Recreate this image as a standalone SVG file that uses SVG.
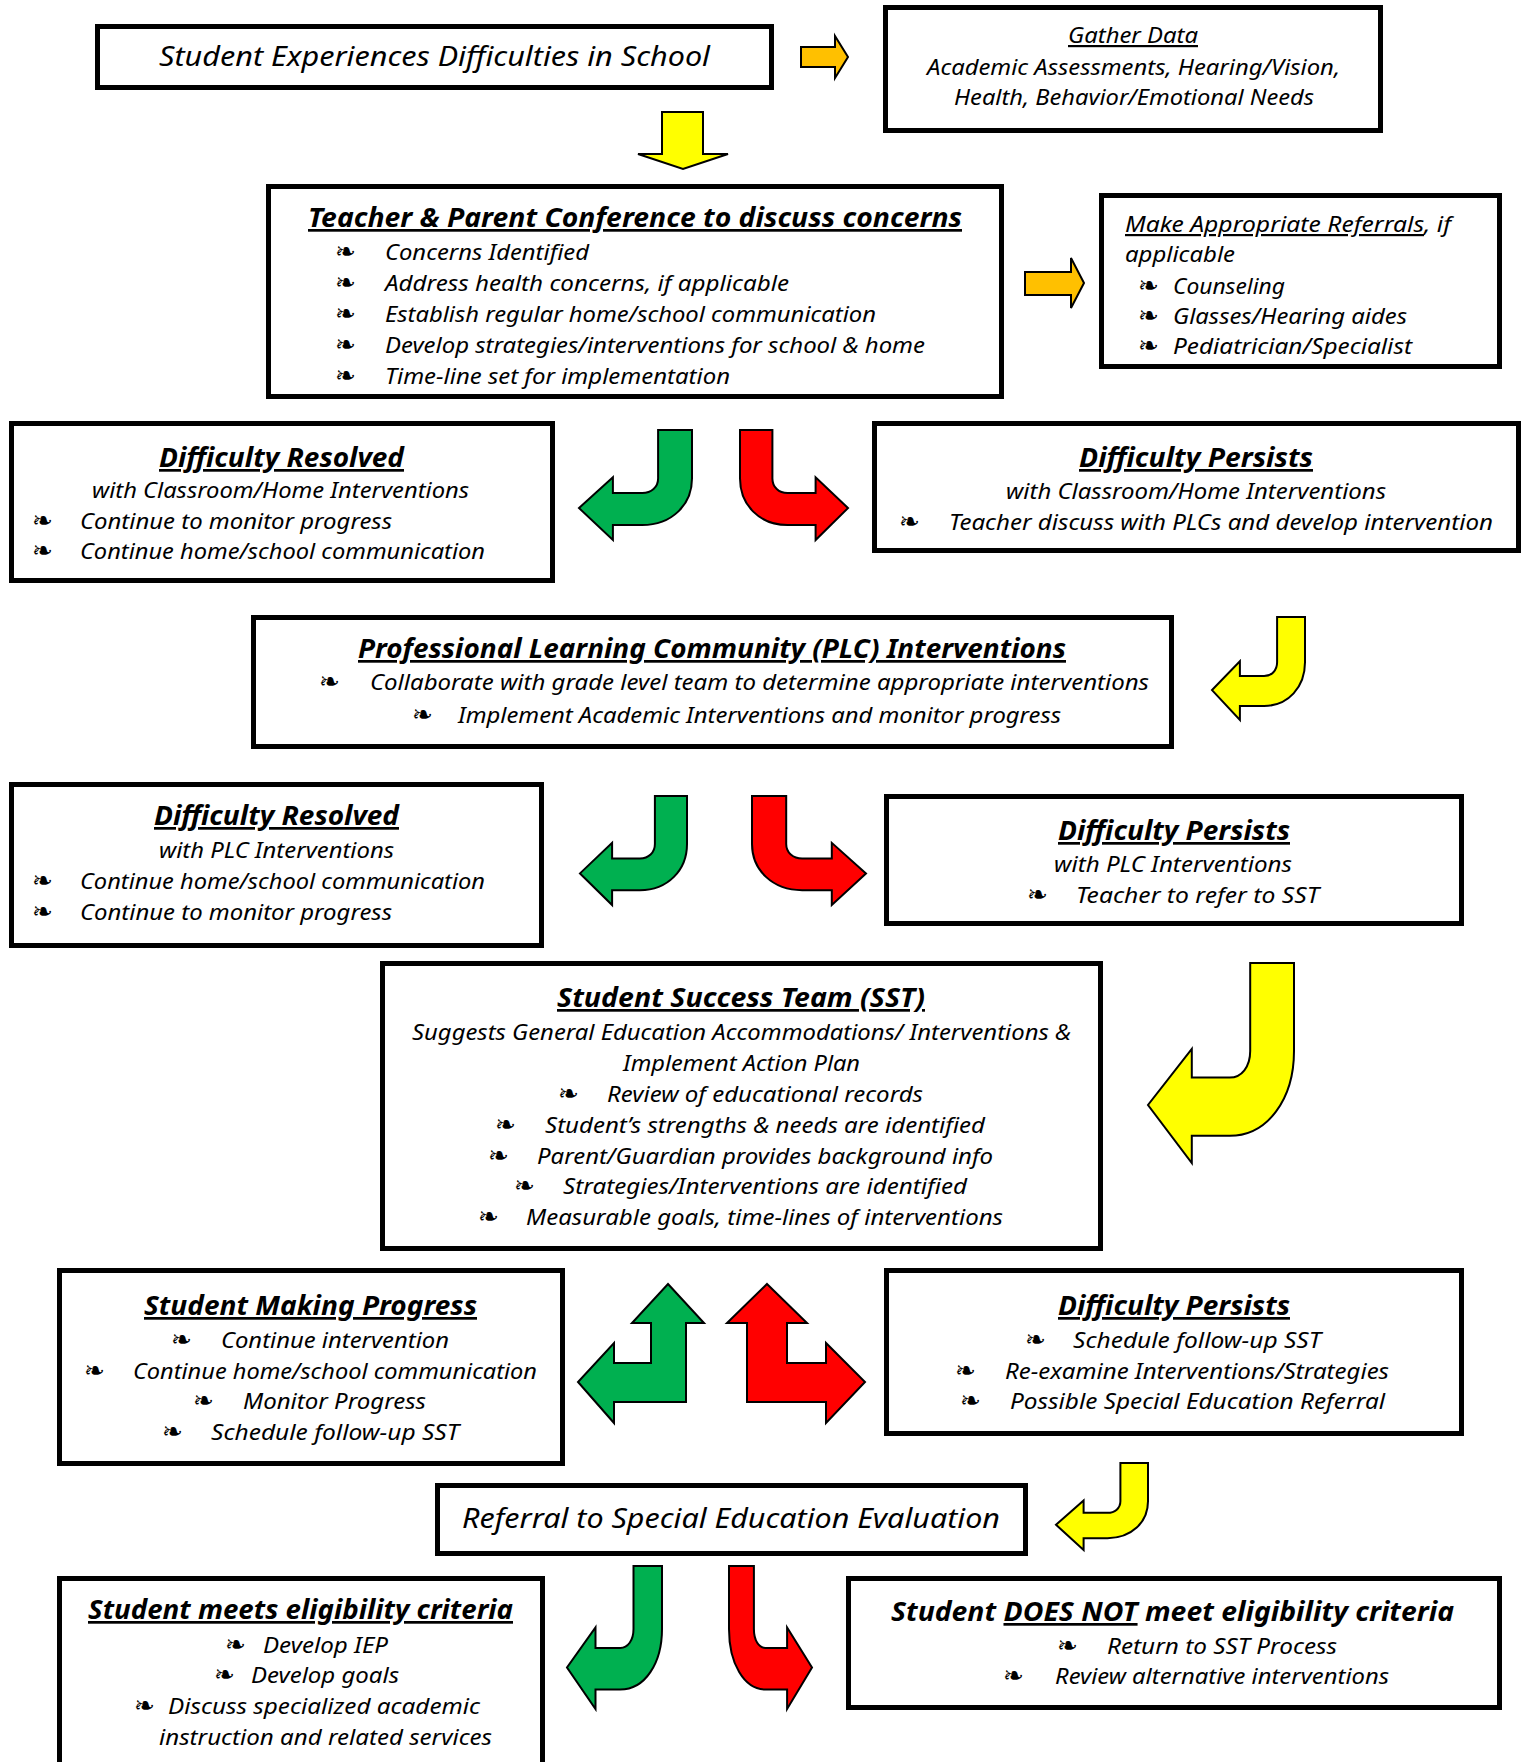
<svg xmlns="http://www.w3.org/2000/svg" xmlns:xlink="http://www.w3.org/1999/xlink" width="1528" height="1762" viewBox="0 0 1528 1762">
<style>
.box{fill:#fff;stroke:#000;stroke-width:5}
.t{font-family:"Noto Sans","DejaVu Sans",sans-serif;font-style:italic;fill:#000;font-size:22px}
.big{font-size:28px;font-style:italic}
.h{font-size:27px;font-weight:bold;text-decoration:underline}
.hb{font-size:27px;font-weight:bold}
.u{text-decoration:underline}
.bul{font-family:"DejaVu Sans",sans-serif;font-size:25px;fill:#000}
.arr{stroke:#000;stroke-width:2;stroke-linejoin:miter}
.g{fill:#00B050}.r{fill:#FF0000}.y{fill:#FFFF00}.o{fill:#FFC000}
</style>
<defs>
<path id="curve" vector-effect="non-scaling-stroke" d="M70,0 H100 V44 C100,68 82,86.4 56,86.4 H30 V100 L0,71 L30,43 V57.3 H56 C64,57.3 70,52 70,44 Z"/>
</defs>
<rect width="1528" height="1762" fill="#fff"/>

<g id="connectors">
<path class="arr o" d="M801,47 H835 V36 L848,57 L835,78 V67 H801 Z"/>
<path class="arr y" d="M662,112 H703 V154 H728 L683,169 L638,154 H662 Z"/>
<path class="arr o" d="M1025,272 H1071 V258 L1084,283 L1071,308 V295 H1025 Z"/>
<use href="#curve" xlink:href="#curve" class="arr g" transform="translate(579,430) scale(1.13,1.10)"/>
<use href="#curve" xlink:href="#curve" class="arr r" transform="translate(848,430) scale(-1.08,1.10)"/>
<use href="#curve" xlink:href="#curve" class="arr y" transform="translate(1212,617) scale(0.93,1.03)"/>
<use href="#curve" xlink:href="#curve" class="arr g" transform="translate(580,796) scale(1.07,1.09)"/>
<use href="#curve" xlink:href="#curve" class="arr r" transform="translate(866,796) scale(-1.14,1.09)"/>
<use href="#curve" xlink:href="#curve" class="arr y" transform="translate(1148,963) scale(1.46,2.0)"/>
<path class="arr g" d="M668,1284 L704,1323 H686 V1402 H614 V1423 L578,1382 L614,1343 V1363 H651 V1323 H632 Z"/>
<path class="arr r" d="M767,1284 L807,1323 H787 V1363 H826 V1343 L865,1382 L826,1423 V1402 H747 V1323 H727 Z"/>
<use href="#curve" xlink:href="#curve" class="arr y" transform="translate(1056,1463) scale(0.92,0.87)"/>
<use href="#curve" xlink:href="#curve" class="arr g" transform="translate(567,1566) scale(0.95,1.43)"/>
<use href="#curve" xlink:href="#curve" class="arr r" transform="translate(812,1566) scale(-0.83,1.43)"/>
</g>

<g id="n-start">
<rect class="box" x="97.5" y="26.5" width="674" height="61"/>
<text class="t big" x="159" y="66" textLength="551" lengthAdjust="spacingAndGlyphs">Student Experiences Difficulties in School</text>
</g>

<g id="n-gather">
<rect class="box" x="885.5" y="7.5" width="495" height="123"/>
<text class="t u" x="1068" y="43" font-size="23" textLength="130" lengthAdjust="spacingAndGlyphs">Gather Data</text>
<text class="t" x="927" y="75" textLength="413" lengthAdjust="spacingAndGlyphs">Academic Assessments, Hearing/Vision,</text>
<text class="t" x="954" y="105" textLength="360" lengthAdjust="spacingAndGlyphs">Health, Behavior/Emotional Needs</text>
</g>

<g id="n-conference">
<rect class="box" x="268.5" y="186.5" width="733" height="210"/>
<text class="t h" x="308" y="227" textLength="654" lengthAdjust="spacingAndGlyphs">Teacher &amp; Parent Conference to discuss concerns</text>
<text class="bul" x="335" y="260">❧</text>
<text class="bul" x="335" y="291">❧</text>
<text class="bul" x="335" y="322">❧</text>
<text class="bul" x="335" y="353">❧</text>
<text class="bul" x="335" y="384">❧</text>
<text class="t" x="385" y="260" textLength="204" lengthAdjust="spacingAndGlyphs">Concerns Identified</text>
<text class="t" x="385" y="291" textLength="404" lengthAdjust="spacingAndGlyphs">Address health concerns, if applicable</text>
<text class="t" x="385" y="322" textLength="491" lengthAdjust="spacingAndGlyphs">Establish regular home/school communication</text>
<text class="t" x="385" y="353" textLength="540" lengthAdjust="spacingAndGlyphs">Develop strategies/interventions for school &amp; home</text>
<text class="t" x="385" y="384" textLength="345" lengthAdjust="spacingAndGlyphs">Time-line set for implementation</text>
</g>

<g id="n-referrals">
<rect class="box" x="1101.5" y="195.5" width="398" height="171"/>
<text class="t" x="1125" y="232" textLength="326" lengthAdjust="spacingAndGlyphs"><tspan class="u">Make Appropriate Referrals</tspan>, if</text>
<text class="t" x="1125" y="262" textLength="110" lengthAdjust="spacingAndGlyphs">applicable</text>
<text class="bul" x="1138" y="294">❧</text>
<text class="bul" x="1138" y="324">❧</text>
<text class="bul" x="1138" y="354">❧</text>
<text class="t" x="1173" y="294" textLength="112" lengthAdjust="spacingAndGlyphs">Counseling</text>
<text class="t" x="1173" y="324" textLength="234" lengthAdjust="spacingAndGlyphs">Glasses/Hearing aides</text>
<text class="t" x="1173" y="354" textLength="239" lengthAdjust="spacingAndGlyphs">Pediatrician/Specialist</text>
</g>

<g id="n-resolved1">
<rect class="box" x="11.5" y="423.5" width="541" height="157"/>
<text class="t h" x="159" y="467" textLength="245" lengthAdjust="spacingAndGlyphs">Difficulty Resolved</text>
<text class="t" x="92" y="498" textLength="377" lengthAdjust="spacingAndGlyphs">with Classroom/Home Interventions</text>
<text class="bul" x="32" y="529">❧</text>
<text class="bul" x="32" y="559">❧</text>
<text class="t" x="80" y="529" textLength="312" lengthAdjust="spacingAndGlyphs">Continue to monitor progress</text>
<text class="t" x="80" y="559" textLength="405" lengthAdjust="spacingAndGlyphs">Continue home/school communication</text>
</g>

<g id="n-persists1">
<rect class="box" x="874.5" y="423.5" width="644" height="127"/>
<text class="t h" x="1079" y="467" textLength="234" lengthAdjust="spacingAndGlyphs">Difficulty Persists</text>
<text class="t" x="1006" y="499" textLength="380" lengthAdjust="spacingAndGlyphs">with Classroom/Home Interventions</text>
<text class="bul" x="899" y="530">❧</text>
<text class="t" x="949" y="530" textLength="544" lengthAdjust="spacingAndGlyphs">Teacher discuss with PLCs and develop intervention</text>
</g>

<g id="n-plc">
<rect class="box" x="253.5" y="617.5" width="918" height="129"/>
<text class="t h" x="358" y="658" textLength="708" lengthAdjust="spacingAndGlyphs">Professional Learning Community (PLC) Interventions</text>
<text class="bul" x="319" y="690">❧</text>
<text class="t" x="370" y="690" textLength="779" lengthAdjust="spacingAndGlyphs">Collaborate with grade level team to determine appropriate interventions</text>
<text class="bul" x="412" y="723">❧</text>
<text class="t" x="458" y="723" textLength="603" lengthAdjust="spacingAndGlyphs">Implement Academic Interventions and monitor progress</text>
</g>

<g id="n-resolved2">
<rect class="box" x="11.5" y="784.5" width="530" height="161"/>
<text class="t h" x="154" y="825" textLength="245" lengthAdjust="spacingAndGlyphs">Difficulty Resolved</text>
<text class="t" x="159" y="858" textLength="235" lengthAdjust="spacingAndGlyphs">with PLC Interventions</text>
<text class="bul" x="32" y="889">❧</text>
<text class="bul" x="32" y="920">❧</text>
<text class="t" x="80" y="889" textLength="405" lengthAdjust="spacingAndGlyphs">Continue home/school communication</text>
<text class="t" x="80" y="920" textLength="312" lengthAdjust="spacingAndGlyphs">Continue to monitor progress</text>
</g>

<g id="n-persists2">
<rect class="box" x="886.5" y="796.5" width="575" height="127"/>
<text class="t h" x="1058" y="840" textLength="232" lengthAdjust="spacingAndGlyphs">Difficulty Persists</text>
<text class="t" x="1054" y="872" textLength="238" lengthAdjust="spacingAndGlyphs">with PLC Interventions</text>
<text class="bul" x="1027" y="903">❧</text>
<text class="t" x="1076" y="903" textLength="243" lengthAdjust="spacingAndGlyphs">Teacher to refer to SST</text>
</g>

<g id="n-sst">
<rect class="box" x="382.5" y="963.5" width="718" height="285"/>
<text class="t h" x="557" y="1007" textLength="368" lengthAdjust="spacingAndGlyphs">Student Success Team (SST)</text>
<text class="t" x="412" y="1040" textLength="659" lengthAdjust="spacingAndGlyphs">Suggests General Education Accommodations/ Interventions &amp;</text>
<text class="t" x="623" y="1071" textLength="237" lengthAdjust="spacingAndGlyphs">Implement Action Plan</text>
<text class="bul" x="558" y="1102">❧</text>
<text class="bul" x="495" y="1133">❧</text>
<text class="bul" x="488" y="1164">❧</text>
<text class="bul" x="514" y="1194">❧</text>
<text class="bul" x="478" y="1225">❧</text>
<text class="t" x="607" y="1102" textLength="316" lengthAdjust="spacingAndGlyphs">Review of educational records</text>
<text class="t" x="545" y="1133" textLength="440" lengthAdjust="spacingAndGlyphs">Student’s strengths &amp; needs are identified</text>
<text class="t" x="537" y="1164" textLength="456" lengthAdjust="spacingAndGlyphs">Parent/Guardian provides background info</text>
<text class="t" x="563" y="1194" textLength="404" lengthAdjust="spacingAndGlyphs">Strategies/Interventions are identified</text>
<text class="t" x="526" y="1225" textLength="477" lengthAdjust="spacingAndGlyphs">Measurable goals, time-lines of interventions</text>
</g>

<g id="n-progress">
<rect class="box" x="59.5" y="1270.5" width="503" height="193"/>
<text class="t h" x="144" y="1315" textLength="333" lengthAdjust="spacingAndGlyphs">Student Making Progress</text>
<text class="bul" x="171" y="1348">❧</text>
<text class="bul" x="84" y="1379">❧</text>
<text class="bul" x="193" y="1409">❧</text>
<text class="bul" x="162" y="1440">❧</text>
<text class="t" x="221" y="1348" textLength="228" lengthAdjust="spacingAndGlyphs">Continue intervention</text>
<text class="t" x="133" y="1379" textLength="404" lengthAdjust="spacingAndGlyphs">Continue home/school communication</text>
<text class="t" x="243" y="1409" textLength="183" lengthAdjust="spacingAndGlyphs">Monitor Progress</text>
<text class="t" x="211" y="1440" textLength="248" lengthAdjust="spacingAndGlyphs">Schedule follow-up SST</text>
</g>

<g id="n-persists3">
<rect class="box" x="886.5" y="1270.5" width="575" height="163"/>
<text class="t h" x="1058" y="1315" textLength="232" lengthAdjust="spacingAndGlyphs">Difficulty Persists</text>
<text class="bul" x="1025" y="1348">❧</text>
<text class="bul" x="955" y="1379">❧</text>
<text class="bul" x="960" y="1409">❧</text>
<text class="t" x="1073" y="1348" textLength="248" lengthAdjust="spacingAndGlyphs">Schedule follow-up SST</text>
<text class="t" x="1005" y="1379" textLength="384" lengthAdjust="spacingAndGlyphs">Re-examine Interventions/Strategies</text>
<text class="t" x="1010" y="1409" textLength="375" lengthAdjust="spacingAndGlyphs">Possible Special Education Referral</text>
</g>

<g id="n-referral">
<rect class="box" x="437.5" y="1485.5" width="588" height="68"/>
<text class="t big" x="462" y="1528" textLength="538" lengthAdjust="spacingAndGlyphs">Referral to Special Education Evaluation</text>
</g>

<g id="n-eligible">
<rect class="box" x="59.5" y="1578.5" width="483" height="240"/>
<text class="t h" x="88" y="1619" textLength="425" lengthAdjust="spacingAndGlyphs">Student meets eligibility criteria</text>
<text class="bul" x="225" y="1653">❧</text>
<text class="bul" x="214" y="1683">❧</text>
<text class="bul" x="134" y="1714">❧</text>
<text class="t" x="263" y="1653" textLength="125" lengthAdjust="spacingAndGlyphs">Develop IEP</text>
<text class="t" x="251" y="1683" textLength="148" lengthAdjust="spacingAndGlyphs">Develop goals</text>
<text class="t" x="168" y="1714" textLength="312" lengthAdjust="spacingAndGlyphs">Discuss specialized academic</text>
<text class="t" x="159" y="1745" textLength="333" lengthAdjust="spacingAndGlyphs">instruction and related services</text>
</g>

<g id="n-not-eligible">
<rect class="box" x="848.5" y="1578.5" width="651" height="129"/>
<text class="t hb" x="891" y="1621" textLength="563" lengthAdjust="spacingAndGlyphs">Student <tspan class="u">DOES NOT</tspan> meet eligibility criteria</text>
<text class="bul" x="1057" y="1654">❧</text>
<text class="bul" x="1003" y="1684">❧</text>
<text class="t" x="1107" y="1654" textLength="230" lengthAdjust="spacingAndGlyphs">Return to SST Process</text>
<text class="t" x="1055" y="1684" textLength="334" lengthAdjust="spacingAndGlyphs">Review alternative interventions</text>
</g>
</svg>
